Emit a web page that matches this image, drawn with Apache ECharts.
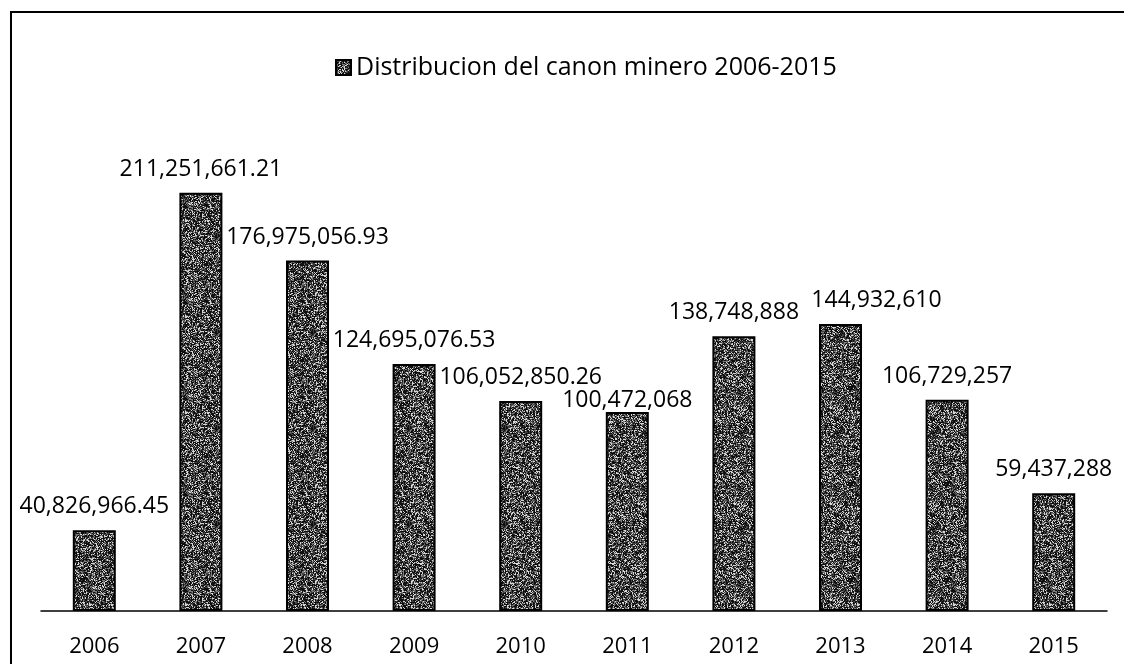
<!DOCTYPE html>
<html>
<head>
<meta charset="utf-8">
<script src="https://cdn.jsdelivr.net/npm/echarts@6/dist/echarts.min.js"></script>
<style>
  html, body { margin: 0; padding: 0; background: #fff; }
  #chart { width: 1124px; height: 664px; }
</style>
</head>
<body>
<div id="chart"></div>
<script>
const years = ["2006", "2007", "2008", "2009", "2010", "2011", "2012", "2013", "2014", "2015"];
const canon = [40826966.45, 211251661.21, 176975056.93, 124695076.53, 106052850.26, 100472068, 138748888, 144932610, 106729257, 59437288];
const valueLabels = ["40,826,966.45", "211,251,661.21", "176,975,056.93", "124,695,076.53", "106,052,850.26", "100,472,068", "138,748,888", "144,932,610", "106,729,257", "59,437,288"];
const seriesName = "Distribucion del canon minero 2006-2015";

// grainy grey texture like the scanned print (deterministic hash noise)
function makeGrain() {
  const c = document.createElement("canvas");
  c.width = 96; c.height = 96;
  const ctx = c.getContext("2d");
  const img = ctx.createImageData(96, 96);
  let s = 12345;
  for (let i = 0; i < 96 * 96; i++) {
    s = (s * 1103515245 + 12345) & 0x7fffffff;
    const r = (s >> 8) % 100;
    let v;
    if (r < 40) v = 15;
    else if (r < 64) v = 65;
    else if (r < 82) v = 125;
    else v = 215;
    img.data[i * 4] = v; img.data[i * 4 + 1] = v; img.data[i * 4 + 2] = v; img.data[i * 4 + 3] = 255;
  }
  ctx.putImageData(img, 0, 0);
  return c;
}
const grain = makeGrain();

// a couple of labels were nudged by hand in the original
const labelNudge = { 5: [0, 12], 7: [36, 0] };

const chart = echarts.init(document.getElementById("chart"));
chart.setOption({
  animation: false,
  textStyle: { fontFamily: "Open Sans" },
  graphic: [
    {
      type: "rect",
      shape: { x: 11, y: 12, width: 1140, height: 700 },
      style: { fill: "none", stroke: "#000", lineWidth: 2 },
      silent: true
    }
  ],
  legend: {
    data: [seriesName],
    left: 330,
    top: 50,
    icon: "rect",
    itemWidth: 15,
    itemHeight: 15,
    itemGap: 7,
    textStyle: { fontSize: 25, color: "#000", fontFamily: "Open Sans" }
  },
  grid: { left: 41, right: 17, top: 116, bottom: 53 },
  xAxis: {
    type: "category",
    data: years,
    axisTick: { show: false },
    axisLine: { lineStyle: { color: "#000", width: 1.5 } },
    axisLabel: { color: "#000", fontSize: 22, margin: 25, fontFamily: "Open Sans" }
  },
  yAxis: {
    type: "value",
    min: 0,
    max: 250000000,
    show: false,
    splitLine: { show: false }
  },
  series: [
    {
      name: seriesName,
      type: "bar",
      barWidth: 43,
      data: canon.map((v, i) => labelNudge[i] ? { value: v, label: { offset: labelNudge[i] } } : v),
      itemStyle: {
        color: { image: grain, repeat: "repeat" },
        borderColor: "#000",
        borderWidth: 2
      },
      label: {
        show: true,
        position: "top",
        distance: 12,
        color: "#000",
        fontSize: 23,
        fontFamily: "Open Sans",
        formatter: (p) => valueLabels[p.dataIndex]
      }
    }
  ]
});
</script>
</body>
</html>
